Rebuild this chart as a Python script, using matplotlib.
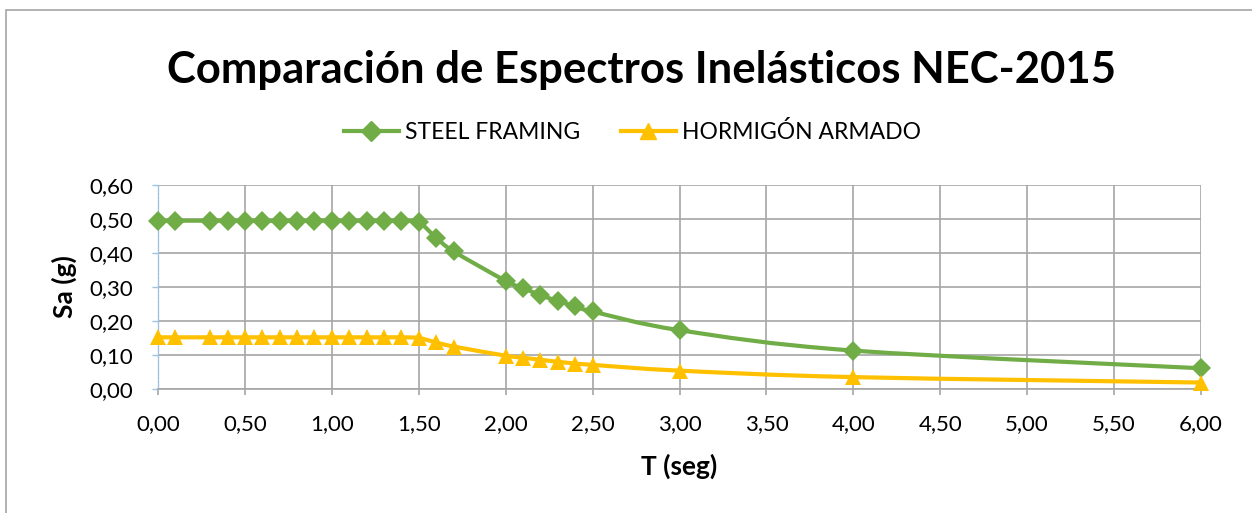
import matplotlib
matplotlib.use("Agg")
import matplotlib.pyplot as plt
from matplotlib.path import Path
from matplotlib.patches import PathPatch, Rectangle
from matplotlib.lines import Line2D
import numpy as np

# Periods T (s) and spectral accelerations Sa (g)
periodo = [0.0, 0.1, 0.3, 0.4, 0.5, 0.6, 0.7, 0.8, 0.9, 1.0, 1.1, 1.2, 1.3,
           1.4, 1.5, 1.6, 1.7, 2.0, 2.1, 2.2, 2.3, 2.4, 2.5, 3.0, 4.0, 6.0]
steel_framing = [0.495, 0.495, 0.495, 0.495, 0.495, 0.495, 0.495, 0.495, 0.495,
                 0.495, 0.495, 0.495, 0.495, 0.495, 0.490, 0.445, 0.405, 0.318,
                 0.297, 0.276, 0.259, 0.243, 0.228, 0.173, 0.113, 0.061]
hormigon_armado = [0.152, 0.152, 0.152, 0.152, 0.152, 0.152, 0.152, 0.152, 0.152,
                   0.152, 0.152, 0.152, 0.152, 0.152, 0.150, 0.137, 0.125, 0.098,
                   0.092, 0.086, 0.080, 0.075, 0.071, 0.054, 0.035, 0.019]

series_names = ["STEEL FRAMING", "HORMIGÓN ARMADO"]
x_ticks = [0.0, 0.5, 1.0, 1.5, 2.0, 2.5, 3.0, 3.5, 4.0, 4.5, 5.0, 5.5, 6.0]
y_ticks = [0.0, 0.1, 0.2, 0.3, 0.4, 0.5, 0.6]

VERDE = "#70AD47"
AMARILLO = "#FFC000"
FONT = ["Lato", "DejaVu Sans"]

plt.rcParams["font.family"] = FONT


def smooth_path(x, y, tension=1 / 6):
    """Cubic Bezier path through the points (Catmull-Rom style smoothing)."""
    x = np.asarray(x, float)
    y = np.asarray(y, float)
    n = len(x)
    verts = [(x[0], y[0])]
    codes = [Path.MOVETO]
    for i in range(n - 1):
        i0 = max(i - 1, 0)
        i3 = min(i + 2, n - 1)
        c1 = (x[i] + (x[i + 1] - x[i0]) * tension, y[i] + (y[i + 1] - y[i0]) * tension)
        c2 = (x[i + 1] - (x[i3] - x[i]) * tension, y[i + 1] - (y[i3] - y[i]) * tension)
        verts += [c1, c2, (x[i + 1], y[i + 1])]
        codes += [Path.CURVE4] * 3
    return Path(verts, codes)


W, H = 1252, 513
fig = plt.figure(figsize=(W / 100, H / 100), dpi=100)
# chart frame (its right and bottom edges fall outside the canvas)
fig.patches.append(Rectangle((5.5 / W, -0.05), 1.1, 1 - 9.5 / H + 0.05,
                             transform=fig.transFigure, fill=False,
                             edgecolor="#a6a6a6", linewidth=1.2))

ax = fig.add_axes([158 / W, 1 - 389 / H, (1201 - 158) / W, (389 - 185) / H])

for ys, color, marker, ms in [(steel_framing, VERDE, "D", 10.5),
                              (hormigon_armado, AMARILLO, "^", 12)]:
    ax.add_patch(PathPatch(smooth_path(periodo, ys), fill=False, edgecolor=color,
                           linewidth=3.0, capstyle="round", joinstyle="round", zorder=3))
    ax.plot(periodo, ys, linestyle="none", marker=marker, markersize=ms,
            color=color, markeredgewidth=0, zorder=4, clip_on=False)

ax.set_xlim(0, 6)
ax.set_ylim(0, 0.6)
ax.set_xticks(x_ticks)
ax.set_yticks(y_ticks)
ax.set_xticklabels([f"{v:.2f}".replace(".", ",") for v in x_ticks])
ax.set_yticklabels([f"{v:.2f}".replace(".", ",") for v in y_ticks])
ax.grid(True, color="#a6a6a6", linewidth=1.2)
ax.set_axisbelow(True)
for side in ["top", "right"]:
    ax.spines[side].set_visible(False)
ax.spines["bottom"].set_color("#a6a6a6")
ax.spines["bottom"].set_linewidth(1.2)
ax.spines["left"].set_color("#9dc3e6")
ax.spines["left"].set_linestyle((0, (1, 1.5)))
ax.spines["left"].set_linewidth(1.0)
ax.tick_params(axis="x", direction="out", length=4, width=1.2, color="#a6a6a6",
               labelsize=16, pad=14)
ax.tick_params(axis="y", direction="out", length=4, width=1.0, color="#9dc3e6",
               labelsize=16, pad=14)

ax.set_xlabel("T (seg)", fontsize=19, fontweight="bold", labelpad=14)
ax.set_ylabel("Sa (g)", fontsize=19, fontweight="bold", labelpad=9)

fig.text(0.512, 1 - 70 / H, "Comparación de Espectros Inelásticos NEC-2015",
         ha="center", va="center", fontsize=31.4, fontweight="bold")

handles = [Line2D([], [], color=VERDE, linewidth=3, marker="D", markersize=10),
           Line2D([], [], color=AMARILLO, linewidth=3, marker="^", markersize=12)]
fig.legend(handles, series_names, loc="center", bbox_to_anchor=(0.505, 1 - 132 / H),
           ncol=2, frameon=False, fontsize=16.5, handlelength=2.4, columnspacing=1.8,
           handletextpad=0.25)

fig.savefig("out.png", dpi=100)
